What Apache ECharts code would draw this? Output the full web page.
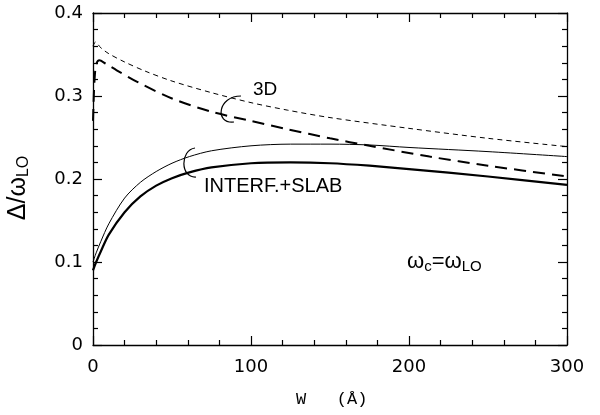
<!DOCTYPE html>
<html><head><meta charset="utf-8">
<script src="https://cdn.jsdelivr.net/npm/echarts@6/dist/echarts.min.js"></script>
<style>html,body{margin:0;padding:0;background:#fff}#c{width:600px;height:415px}</style>
</head><body><div id="c"></div>
<script>
// ---- data ----
const xTicks = [0, 100, 200, 300];
const yTicks = [0, 0.1, 0.2, 0.3, 0.4];

const d3thinW   = [0, 1.5, 5, 10, 20, 33, 50, 75, 100, 123, 150, 200, 250, 300];
const d3thinV   = [0.360, 0.365, 0.358, 0.351, 0.341, 0.330, 0.318, 0.304, 0.292, 0.283, 0.274, 0.261, 0.249, 0.239];

const d3thickW  = [0, 0.5, 1, 2, 4, 8, 15, 28, 50, 75, 100, 123, 150, 175, 213, 250, 300];
const d3thickV  = [0.270, 0.300, 0.320, 0.338, 0.343, 0.339, 0.331, 0.317, 0.297, 0.281, 0.270, 0.260, 0.249, 0.240, 0.227, 0.216, 0.203];

const slabThinW = [0, 2, 5, 10, 20, 30, 40, 50, 61, 75, 100, 125, 150, 175, 200, 250, 300];
const slabThinV = [0.100, 0.111, 0.125, 0.146, 0.177, 0.196, 0.209, 0.219, 0.227, 0.234, 0.240, 0.242, 0.242, 0.241, 0.238, 0.233, 0.227];

const slabThickW = [0, 2, 5, 10, 20, 30, 40, 50, 61, 75, 100, 125, 150, 175, 200, 250, 300];
const slabThickV = [0.090, 0.100, 0.113, 0.133, 0.160, 0.179, 0.192, 0.201, 0.208, 0.214, 0.219, 0.220, 0.219, 0.216, 0.212, 0.203, 0.193];

const zip = (a, b) => a.map((x, i) => [x, b[i]]);

const chart = echarts.init(document.getElementById('c'), null, {renderer: 'canvas'});
const FONT = 'DejaVu Sans';
const axisCommon = {
  min: 0,
  axisLine: {show: true, onZero: false, lineStyle: {color: '#000', width: 1.3}},
  axisTick: {show: true, inside: true, length: 9, lineStyle: {color: '#000', width: 1.2}},
  minorTick: {show: true, splitNumber: 5, length: 5, lineStyle: {color: '#000', width: 1.2}},
  splitLine: {show: false}
};
const option = {
  animation: false,
  backgroundColor: '#fff',
  grid: {left: 93, right: 33, top: 13, bottom: 70, containLabel: false},
  xAxis: [
    Object.assign({}, axisCommon, {
      type: 'value', position: 'bottom', max: 300, interval: 100,
      axisLabel: {color: '#000', fontFamily: FONT, fontSize: 18, margin: 13,
        formatter: v => xTicks.includes(v) ? String(v) : ''}
    }),
    Object.assign({}, axisCommon, {
      type: 'value', position: 'top', max: 300, interval: 100, axisLabel: {show: false}
    })
  ],
  yAxis: [
    Object.assign({}, axisCommon, {
      type: 'value', position: 'left', max: 0.4, interval: 0.1,
      axisLabel: {color: '#000', fontFamily: FONT, fontSize: 18, margin: 10,
        formatter: v => { const t = yTicks.find(y => Math.abs(y - v) < 1e-9); return t === 0 ? '0' : t.toFixed(1); }}
    }),
    Object.assign({}, axisCommon, {
      type: 'value', position: 'right', max: 0.4, interval: 0.1, axisLabel: {show: false}
    })
  ],
  series: [
    {type: 'line', data: zip(d3thinW, d3thinV), smooth: 0.3, showSymbol: false,
     lineStyle: {color: '#000', width: 1, type: [5, 4]}},
    {type: 'line', data: zip(d3thickW, d3thickV), smooth: 0.3, showSymbol: false,
     lineStyle: {color: '#000', width: 2, type: [12, 7]}},
    {type: 'line', data: zip(slabThinW, slabThinV), smooth: 0.3, showSymbol: false,
     lineStyle: {color: '#000', width: 1}},
    {type: 'line', data: zip(slabThickW, slabThickV), smooth: 0.3, showSymbol: false,
     lineStyle: {color: '#000', width: 2.2}}
  ],
  graphic: [
    {type: 'text', left: 296, top: 391,
     style: {text: 'W   (Å)', font: '17px "Liberation Mono"', fill: '#000'}},
    {type: 'text', x: 18, y: 188, rotation: Math.PI / 2,
     style: {text: '{a|Δ/ω}{s|LO}', fill: '#000', align: 'center', verticalAlign: 'middle',
       rich: {a: {fontFamily: 'Liberation Sans', fontSize: 25, color: '#000'},
              s: {fontFamily: 'Liberation Sans', fontSize: 16, color: '#000', padding: [12, 0, 0, 0]}}}},
    {type: 'text', left: 253, top: 80,
     style: {text: '3D', font: '19px "Liberation Sans"', fill: '#000'}},
    {type: 'text', left: 204, top: 176,
     style: {text: 'INTERF.+SLAB', font: '20px "Liberation Sans"', fill: '#000'}},
    {type: 'text', x: 407, y: 262,
     style: {text: '{a|ω}{s|c}{a|=ω}{s|LO}', verticalAlign: 'middle',
       rich: {a: {fontFamily: 'Liberation Sans', fontSize: 22, color: '#000'},
              s: {fontFamily: 'Liberation Sans', fontSize: 15, color: '#000', padding: [10, 0, 0, 0]}}}},
    {type: 'bezierCurve', shape: {x1: 241, y1: 96, cpx1: 218, cpy1: 96, cpx2: 214, cpy2: 124, x2: 234, y2: 122},
     style: {stroke: '#000', lineWidth: 1.2, fill: null}},
    {type: 'bezierCurve', shape: {x1: 195, y1: 148, cpx1: 180, cpy1: 150, cpx2: 180, cpy2: 178, x2: 196, y2: 177},
     style: {stroke: '#000', lineWidth: 1.2, fill: null}}
  ]
};
chart.setOption(option);
</script></body></html>
